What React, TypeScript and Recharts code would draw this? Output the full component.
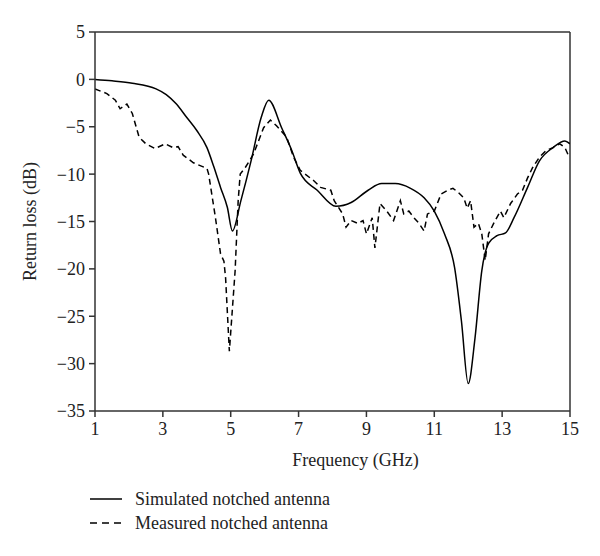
import React from 'react';
import { LineChart, Line, XAxis, YAxis, ReferenceLine } from 'recharts';

const simFreq = [1, 1.5, 2.1, 2.8, 3.1, 3.4, 3.7, 4.0, 4.3, 4.5, 4.7, 4.9, 5.05, 5.3, 5.6, 5.9, 6.12, 6.5, 6.8, 7.05, 7.55, 8.1, 8.55, 9.05, 9.45, 9.85, 10.3, 10.7, 11.0, 11.3, 11.6, 11.8, 12.0, 12.2, 12.4, 12.6, 12.85, 13.1, 13.35, 13.75, 14.1, 14.5, 14.85, 15];
const simLoss = [0, -0.15, -0.4, -1.0, -1.6, -2.6, -4.0, -5.4, -7.2, -9.2, -11.4, -13.5, -16.0, -12.8, -8.6, -4.0, -2.2, -5.1, -7.5, -9.9, -11.7, -13.4, -13.0, -11.7, -11.0, -11.0, -11.5, -12.5, -13.9, -16.3, -19.9, -25.5, -32.1, -27.3, -20.2, -17.3, -16.5, -16.2, -14.6, -11.4, -8.6, -7.2, -6.5, -6.8];

const measFreq = [1, 1.35, 1.6, 1.74, 1.94, 2.1, 2.3, 2.5, 2.77, 3.07, 3.3, 3.45, 3.6, 3.9, 4.3, 4.35, 4.55, 4.7, 4.8, 4.85, 4.96, 5.13, 5.22, 5.28, 5.43, 5.67, 5.97, 6.17, 6.35, 6.65, 6.85, 7.05, 7.45, 7.65, 7.95, 8.05, 8.3, 8.4, 8.55, 8.75, 8.9, 9.0, 9.17, 9.25, 9.4, 9.6, 9.8, 10.0, 10.1, 10.25, 10.4, 10.55, 10.7, 10.8, 11.0, 11.2, 11.4, 11.55, 11.7, 11.87, 11.97, 12.07, 12.17, 12.3, 12.4, 12.5, 12.6, 12.75, 12.95, 13.05, 13.25, 13.45, 13.6, 13.75, 13.9, 14.1, 14.3, 14.5, 14.7, 14.85, 14.95];
const measLoss = [-1.0, -1.5, -2.2, -3.1, -2.6, -3.6, -6.1, -6.8, -7.3, -6.8, -7.2, -7.1, -8.0, -8.8, -9.4, -10.0, -14.6, -18.4, -19.2, -21.0, -28.7, -20.2, -12.8, -10.0, -9.3, -7.9, -5.1, -4.3, -4.9, -6.1, -8.2, -9.6, -10.7, -11.4, -11.7, -12.8, -14.2, -15.6, -14.9, -15.2, -14.9, -16.3, -14.6, -17.8, -13.1, -13.9, -14.9, -12.8, -14.2, -13.9, -14.6, -15.2, -16.0, -14.2, -13.9, -12.1, -11.7, -11.5, -11.9, -12.5, -13.6, -12.8, -15.6, -15.2, -16.3, -19.1, -16.3, -15.2, -13.9, -14.6, -13.1, -12.1, -11.7, -10.4, -9.3, -8.2, -7.5, -7.2, -6.8, -7.2, -8.0];

const xTicks = [1, 3, 5, 7, 9, 11, 13, 15];
const yTicks = [-35, -30, -25, -20, -15, -10, -5, 0, 5];
const seriesNames = ['Simulated notched antenna', 'Measured notched antenna'];

const simData = simFreq.map((f, i) => ({ f, v: simLoss[i] }));
const measData = measFreq.map((f, i) => ({ f, v: measLoss[i] }));

const FONT = '"Liberation Serif", "Times New Roman", serif';
const AX = '#333';

const fmt = (v: number) => (v < 0 ? '\u2212' + Math.abs(v) : String(v));

const LegendBox = () => (
  <svg width={300} height={56} style={{ position: 'absolute', left: 90, top: 487 }}>
    <line x1={0} y1={12} x2={32} y2={12} stroke="#000" strokeWidth={1.5} />
    <text x={45} y={12} dy="0.35em" fontFamily={FONT} fontSize={18} fill="#222">{seriesNames[0]}</text>
    <line x1={0} y1={36} x2={32} y2={36} stroke="#000" strokeWidth={1.5} strokeDasharray="7 5" />
    <text x={45} y={36} dy="0.35em" fontFamily={FONT} fontSize={18} fill="#222">{seriesNames[1]}</text>
  </svg>
);

export default function App() {
  return (
    <div style={{ position: 'absolute', left: 0, top: 0, width: 600, height: 556, background: '#fff' }}>
      <LineChart width={600} height={556} margin={{ top: 32, right: 30, bottom: 115, left: 35 }}>
        <XAxis
          type="number"
          dataKey="f"
          domain={[1, 15]}
          ticks={xTicks}
          allowDataOverflow
          height={30}
          stroke={AX}
          strokeWidth={1.5}
          tickSize={6}
          tickMargin={5}
          tick={{ fill: '#222', fontFamily: FONT, fontSize: 18 }}
          label={{ value: 'Frequency (GHz)', position: 'bottom', offset: 12, dx: 23, fill: '#222', fontFamily: FONT, fontSize: 18 }}
        />
        <YAxis
          type="number"
          domain={[-35, 5]}
          ticks={yTicks}
          allowDataOverflow
          width={60}
          stroke={AX}
          strokeWidth={1.5}
          tickSize={6}
          tickMargin={4}
          tickFormatter={fmt}
          tick={{ fill: '#222', fontFamily: FONT, fontSize: 18 }}
          label={{ value: 'Return loss (dB)', angle: -90, position: 'insideLeft', dx: -10, dy: 0, style: { textAnchor: 'middle' }, fill: '#222', fontFamily: FONT, fontSize: 18 }}
        />
        <ReferenceLine y={5} stroke={AX} strokeWidth={1.5} />
        <ReferenceLine x={15} stroke={AX} strokeWidth={1.5} />
        <Line data={simData} dataKey="v" name={seriesNames[0]} type="monotone" stroke="#000" strokeWidth={1.5} dot={false} isAnimationActive={false} />
        <Line data={measData} dataKey="v" name={seriesNames[1]} type="linear" stroke="#000" strokeWidth={1.5} strokeDasharray="6 4" dot={false} isAnimationActive={false} />
      </LineChart>
      <LegendBox />
    </div>
  );
}
